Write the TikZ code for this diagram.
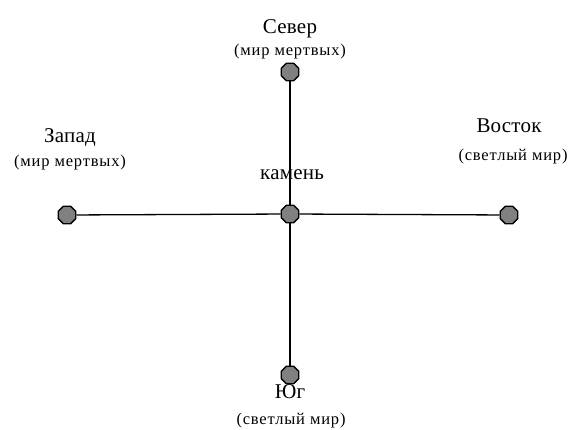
\documentclass[tikz,border=0pt]{standalone}
\usepackage{fontspec}
\setmainfont{Liberation Serif}
\usetikzlibrary{shapes.geometric}

\begin{document}
\begin{tikzpicture}[x=1pt,y=-1pt,
  stone/.style={regular polygon,regular polygon sides=8,draw,line width=1.4pt,fill=gray,inner sep=0pt,minimum size=19pt},
  side/.style={anchor=base,inner sep=0pt,font=\fontsize{21}{23}\selectfont\addfontfeature{LetterSpace=1}},
  world/.style={anchor=base,inner sep=0pt,font=\fontsize{16.5}{18}\selectfont\addfontfeature{LetterSpace=5}}]
\useasboundingbox (0,0) rectangle (573,430);

\node[stone] (center) at (290,214) {};
\node[stone] (north) at (290,72) {};
\node[stone] (west) at (67,215) {};
\node[stone] (east) at (509,215) {};
\node[stone] (south) at (290,375) {};

\draw[line width=1.3pt] (center) -- (north);
\draw[line width=1.3pt] (center) -- (west);
\draw[line width=1.3pt] (center) -- (east);
\draw[line width=1.3pt] (center) -- (south);

\node[side] (northname) at (290,34) {Север};
\node[world] (northworld) at (290,56) {(мир мертвых)};
\node[side] (westname) at (70,143) {Запад};
\node[world] (westworld) at (70,167) {(мир мертвых)};
\node[side] (eastname) at (509,133) {Восток};
\node[world] (eastworld) at (513,161) {(светлый мир)};
\node[side] (stonename) at (292,180) {камень};
\node[side] (southname) at (290,398) {Юг};
\node[world] (southworld) at (291,424) {(светлый мир)};
\end{tikzpicture}
\end{document}
